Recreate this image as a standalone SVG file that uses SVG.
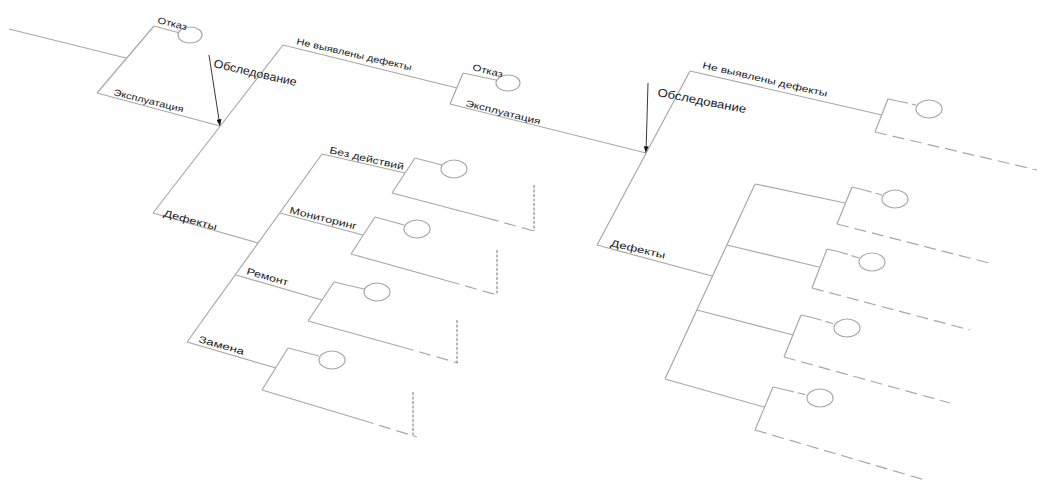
<svg xmlns="http://www.w3.org/2000/svg" width="1037" height="481" viewBox="0 0 1037 481">
<defs>
<marker id="ah" viewBox="0 0 8 6" refX="8" refY="3" markerWidth="7" markerHeight="5" orient="auto" markerUnits="userSpaceOnUse">
<path d="M0,0 L8,3 L0,6 Z" fill="#111"/>
</marker>
<style>
.l{stroke:#a8a8a8;stroke-width:1.2;fill:none}
.d{stroke:#a8a8a8;stroke-width:1.2;fill:none;stroke-dasharray:12 6}
.t{stroke:#777;stroke-width:1;fill:none;stroke-dasharray:3 1.5}
.c{stroke:#a8a8a8;stroke-width:1.2;fill:#fff}
.a{stroke:#222;stroke-width:0.9;fill:none}
text{font-family:"Liberation Sans",Arial,sans-serif;fill:#1a1a1a}
.s{font-size:9px}
.m{font-size:9.5px}
.b{font-size:11.5px}
</style>
</defs>
<rect width="1037" height="481" fill="#fff"/>

<g id="connectors">
<line class="l" x1="9" y1="29" x2="126" y2="58"/>
<line class="l" x1="154" y1="26" x2="178" y2="32.5"/>
<line class="l" x1="97" y1="93" x2="220" y2="126"/>
<line class="a" x1="209" y1="55" x2="220" y2="126" marker-end="url(#ah)"/>
<line class="l" x1="283" y1="45" x2="457" y2="88"/>
<line class="l" x1="153" y1="213" x2="258" y2="243"/>
<line class="l" x1="463" y1="73" x2="496" y2="80"/>
<line class="l" x1="450" y1="104" x2="646" y2="153"/>
<line class="a" x1="648" y1="83" x2="646" y2="153" marker-end="url(#ah)"/>
<line class="l" x1="690" y1="71" x2="882" y2="115"/>
<line class="l" x1="597" y1="245" x2="712" y2="276"/>
<!-- left defects subtree branches -->
<line class="l" x1="322" y1="154" x2="405" y2="173"/>
<line class="l" x1="415" y1="158" x2="442" y2="165"/>
<line class="l" x1="392" y1="193" x2="487" y2="218"/>
<line class="d" x1="487" y1="218" x2="534" y2="231"/>
<line class="t" x1="534" y1="185" x2="534" y2="231"/>
<line class="l" x1="280" y1="213" x2="363" y2="235"/>
<line class="l" x1="375" y1="217" x2="404" y2="225"/>
<line class="l" x1="351" y1="254" x2="448" y2="281"/>
<line class="d" x1="448" y1="281" x2="497" y2="295"/>
<line class="t" x1="497" y1="250" x2="497" y2="295"/>
<line class="l" x1="236" y1="275" x2="322" y2="300"/>
<line class="l" x1="334" y1="282" x2="364" y2="289"/>
<line class="l" x1="308" y1="321" x2="402" y2="347"/>
<line class="d" x1="402" y1="347" x2="458" y2="363"/>
<line class="t" x1="457" y1="320" x2="457" y2="363"/>
<line class="l" x1="187" y1="342" x2="276" y2="368"/>
<line class="l" x1="288" y1="348" x2="319" y2="356"/>
<line class="l" x1="262" y1="390" x2="362" y2="420"/>
<line class="d" x1="362" y1="420" x2="417" y2="437"/>
<line class="t" x1="413" y1="392" x2="413" y2="437"/>
<!-- right subtree branches -->
<line class="l" x1="888" y1="99" x2="900" y2="101.5"/>
<line class="d" x1="900" y1="101.5" x2="916" y2="105" style="stroke-dasharray:8 4"/>
<line class="d" x1="875" y1="132" x2="1037" y2="170"/>
<line class="l" x1="755" y1="184" x2="845" y2="203"/>
<line class="l" x1="852" y1="187" x2="864" y2="190"/>
<line class="d" x1="864" y1="190" x2="882" y2="195" style="stroke-dasharray:8 4"/>
<line class="d" x1="837" y1="224" x2="993" y2="264"/>
<line class="l" x1="727" y1="245" x2="819" y2="267"/>
<line class="l" x1="827" y1="249" x2="840" y2="252"/>
<line class="d" x1="840" y1="252" x2="859" y2="258" style="stroke-dasharray:8 4"/>
<line class="d" x1="812" y1="288" x2="970" y2="330"/>
<line class="l" x1="697" y1="310" x2="793" y2="335"/>
<line class="l" x1="801" y1="315" x2="814" y2="318"/>
<line class="d" x1="814" y1="318" x2="834" y2="324" style="stroke-dasharray:8 4"/>
<line class="d" x1="784" y1="357" x2="950" y2="403"/>
<line class="l" x1="665" y1="379" x2="764" y2="407"/>
<line class="l" x1="773" y1="387" x2="786" y2="390"/>
<line class="d" x1="786" y1="390" x2="807" y2="395" style="stroke-dasharray:8 4"/>
<line class="d" x1="755" y1="430" x2="925" y2="480"/>
</g>

<g id="node-exploitation-1">
<line class="l" x1="154" y1="26" x2="97" y2="93"/>
<ellipse class="c" cx="190" cy="35" rx="12" ry="8"/>
<text class="s" x="157" y="23" transform="rotate(14 157 23)" textLength="30" lengthAdjust="spacingAndGlyphs">Отказ</text>
<text class="s" x="113" y="95" transform="rotate(14 113 95)" textLength="72" lengthAdjust="spacingAndGlyphs">Эксплуатация</text>
</g>

<g id="node-survey-1">
<line class="l" x1="283" y1="45" x2="153" y2="213"/>
<text class="b" x="213" y="67" transform="rotate(13 213 67)" textLength="85" lengthAdjust="spacingAndGlyphs">Обследование</text>
<text class="s" x="296" y="44" transform="rotate(13 296 44)" textLength="118" lengthAdjust="spacingAndGlyphs">Не выявлены дефекты</text>
<text class="m" x="163" y="216" transform="rotate(15 163 216)" textLength="55" lengthAdjust="spacingAndGlyphs">Дефекты</text>
</g>

<g id="node-actions-1">
<line class="l" x1="322" y1="154" x2="187" y2="342"/>
<text class="m" x="329" y="153" transform="rotate(13 329 153)" textLength="76" lengthAdjust="spacingAndGlyphs">Без действий</text>
<text class="m" x="289" y="213" transform="rotate(14 289 213)" textLength="69" lengthAdjust="spacingAndGlyphs">Мониторинг</text>
<text class="m" x="246" y="274" transform="rotate(16 246 274)" textLength="43" lengthAdjust="spacingAndGlyphs">Ремонт</text>
<text class="m" x="198" y="342" transform="rotate(16 198 342)" textLength="47" lengthAdjust="spacingAndGlyphs">Замена</text>
</g>

<g id="node-no-action-1">
<line class="l" x1="415" y1="158" x2="392" y2="193"/>
<ellipse class="c" cx="454" cy="169" rx="13" ry="9"/>
</g>
<g id="node-monitoring-1">
<line class="l" x1="375" y1="217" x2="351" y2="254"/>
<ellipse class="c" cx="417" cy="229" rx="13" ry="9"/>
</g>
<g id="node-repair-1">
<line class="l" x1="334" y1="282" x2="308" y2="321"/>
<ellipse class="c" cx="377" cy="292" rx="13" ry="9"/>
</g>
<g id="node-replace-1">
<line class="l" x1="288" y1="348" x2="262" y2="390"/>
<ellipse class="c" cx="332" cy="360" rx="13" ry="9"/>
</g>

<g id="node-exploitation-2">
<line class="l" x1="463" y1="73" x2="450" y2="104"/>
<ellipse class="c" cx="508" cy="83" rx="12" ry="8"/>
<text class="s" x="472" y="70" transform="rotate(14 472 70)" textLength="31" lengthAdjust="spacingAndGlyphs">Отказ</text>
<text class="s" x="465" y="106" transform="rotate(14 465 106)" textLength="77" lengthAdjust="spacingAndGlyphs">Эксплуатация</text>
</g>

<g id="node-survey-2">
<line class="l" x1="690" y1="71" x2="597" y2="245"/>
<text class="b" x="657" y="96" transform="rotate(11 657 96)" textLength="90" lengthAdjust="spacingAndGlyphs">Обследование</text>
<text class="s" x="702" y="68" transform="rotate(13 702 68)" textLength="128" lengthAdjust="spacingAndGlyphs">Не выявлены дефекты</text>
<text class="m" x="610" y="246" transform="rotate(13 610 246)" textLength="56" lengthAdjust="spacingAndGlyphs">Дефекты</text>
</g>

<g id="node-no-defects-2">
<line class="l" x1="888" y1="99" x2="875" y2="132"/>
<ellipse class="c" cx="929" cy="109" rx="13" ry="9"/>
</g>

<g id="node-actions-2">
<line class="l" x1="755" y1="184" x2="665" y2="379"/>
</g>
<g id="node-a2-1">
<line class="l" x1="852" y1="187" x2="837" y2="224"/>
<ellipse class="c" cx="895" cy="199" rx="13" ry="9"/>
</g>
<g id="node-a2-2">
<line class="l" x1="827" y1="249" x2="812" y2="288"/>
<ellipse class="c" cx="872" cy="262" rx="13" ry="9"/>
</g>
<g id="node-a2-3">
<line class="l" x1="801" y1="315" x2="784" y2="357"/>
<ellipse class="c" cx="847" cy="328" rx="13" ry="9"/>
</g>
<g id="node-a2-4">
<line class="l" x1="773" y1="387" x2="755" y2="430"/>
<ellipse class="c" cx="820" cy="398" rx="13" ry="9"/>
</g>
</svg>
